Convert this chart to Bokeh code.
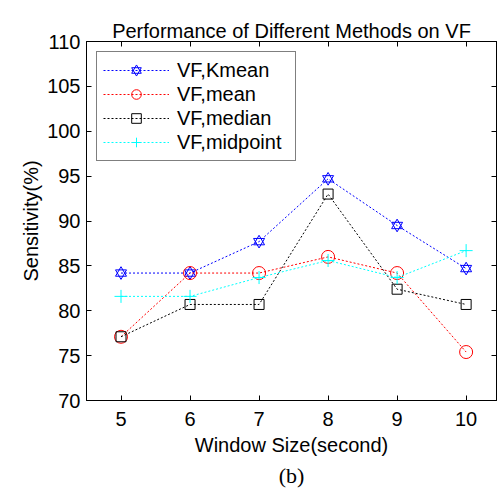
from bokeh.plotting import figure
from bokeh.models import Range1d, LinearAxis, Legend, LegendItem, Title, FixedTicker
from bokeh.embed import file_html
from bokeh.resources import INLINE

window = [5, 6, 7, 8, 9, 10]
kmean = [84.2, 84.2, 87.7, 94.7, 89.5, 84.7]
mean = [77.1, 84.2, 84.2, 86.0, 84.2, 75.4]
median = [77.1, 80.7, 80.7, 93.0, 82.4, 80.7]
midpoint = [81.6, 81.6, 83.7, 85.6, 83.7, 86.7]
y_ticks = [70, 75, 80, 85, 90, 95, 100, 105, 110]
x_ticks = [5, 6, 7, 8, 9, 10]
title_text = "Performance of Different Methods on VF"

FONT = "Liberation Sans"
FS = "20px"

p = figure(width=497, height=491, output_backend="svg", toolbar_location=None,
           x_range=Range1d(4.5, 10.44), y_range=Range1d(70, 110),
           min_border_left=86, min_border_right=1, min_border_top=41, min_border_bottom=91)
p.title = None
p.background_fill_color = "white"
p.border_fill_color = "white"
p.outline_line_color = "black"
p.outline_line_width = 1
p.grid.visible = False

for ax in p.xaxis + p.yaxis:
    ax.major_label_text_font = FONT
    ax.major_label_text_font_size = FS
    ax.major_label_text_color = "black"
    ax.axis_label_text_font = FONT
    ax.axis_label_text_font_size = FS
    ax.axis_label_text_font_style = "normal"
    ax.axis_label_text_color = "black"
    ax.major_tick_in = 5
    ax.major_tick_out = 0
    ax.major_tick_line_color = "black"
    ax.minor_tick_line_color = None
    ax.axis_line_color = "black"

p.xaxis.ticker = FixedTicker(ticks=x_ticks)
p.yaxis.ticker = FixedTicker(ticks=y_ticks)
p.xaxis.axis_label = "Window Size(second)"
p.yaxis.axis_label = "Sensitivity(%)"
p.xaxis.major_label_standoff = 11
p.yaxis.major_label_standoff = 6
p.xaxis.axis_label_standoff = 5
p.yaxis.axis_label_standoff = 2

top = LinearAxis(ticker=FixedTicker(ticks=x_ticks), major_label_text_font_size="0px",
                 major_tick_in=5, major_tick_out=0, minor_tick_line_color=None)
right = LinearAxis(ticker=FixedTicker(ticks=y_ticks), major_label_text_font_size="0px",
                   major_tick_in=5, major_tick_out=0, minor_tick_line_color=None)
top.major_label_text_color = None
right.major_label_text_color = None
p.add_layout(top, "above")
p.add_layout(right, "right")

# invisible spacer between the top axis and the title
spacer = Title(text=".", text_alpha=0, text_font_size="12px", standoff=3)
p.add_layout(spacer, "above")

main_title = Title(text=title_text, align="center", text_font=FONT, text_font_size=FS,
                   text_font_style="normal", text_color="black", standoff=0)
p.add_layout(main_title, "above")

sub = Title(text="(b)", align="center", text_font="Liberation Serif",
            text_font_size="22px", text_font_style="normal", text_color="black", standoff=5)
p.add_layout(sub, "below")

dash = "2 2"
items = []

l1 = p.line(window, kmean, line_color="blue", line_dash=dash, line_width=1)
m1a = p.scatter(window, kmean, marker="triangle", size=11, fill_color=None, line_color="blue")
m1b = p.scatter(window, kmean, marker="inverted_triangle", size=11, fill_color=None, line_color="blue")
items.append(LegendItem(label="VF,Kmean", renderers=[l1, m1a, m1b]))

l2 = p.line(window, mean, line_color="red", line_dash=dash, line_width=1)
m2 = p.scatter(window, mean, marker="circle", size=13, fill_color=None, line_color="red")
items.append(LegendItem(label="VF,mean", renderers=[l2, m2]))

l3 = p.line(window, median, line_color="black", line_dash=dash, line_width=1)
m3 = p.scatter(window, median, marker="square", size=10, fill_color=None, line_color="black")
items.append(LegendItem(label="VF,median", renderers=[l3, m3]))

l4 = p.line(window, midpoint, line_color="cyan", line_dash=dash, line_width=1)
m4 = p.scatter(window, midpoint, marker="cross", size=13, fill_color=None, line_color="cyan")
items.append(LegendItem(label="VF,midpoint", renderers=[l4, m4]))

legend = Legend(items=items, location="top_left", margin=10, padding=6, spacing=0,
                glyph_width=66, glyph_height=24, label_height=24, label_standoff=8,
                label_width=112,
                label_text_font=FONT, label_text_font_size=FS, label_text_color="black",
                border_line_color="black", border_line_width=1, background_fill_alpha=1)
p.add_layout(legend, "center")

open("out.html", "w").write(file_html(p, INLINE))
